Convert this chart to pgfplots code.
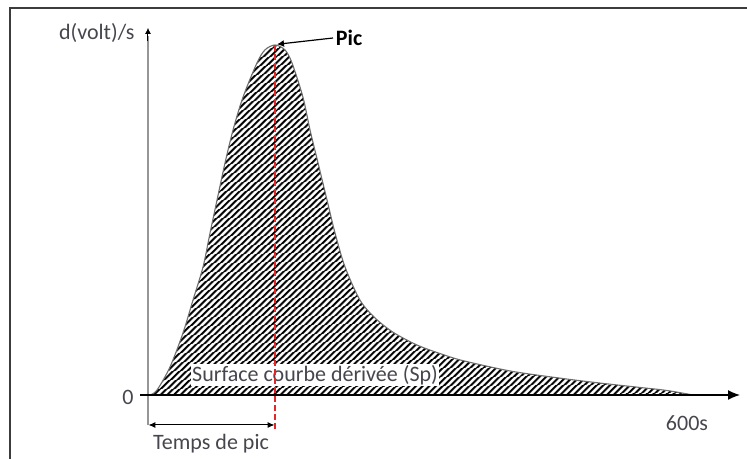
\documentclass[border=0pt]{standalone}
\usepackage{pgfplots}
\pgfplotsset{compat=1.18}
\usepackage{fontspec}
\setmainfont{Carlito}
\usetikzlibrary{patterns.meta,arrows.meta}
\definecolor{txt}{RGB}{70,70,78}
\definecolor{redline}{RGB}{225,40,40}
\definecolor{frame}{RGB}{60,60,60}
\definecolor{outl}{RGB}{110,110,110}
\definecolor{yax}{RGB}{150,150,150}
\begin{document}
\begin{tikzpicture}
\begin{axis}[
  scale only axis, width=747pt, height=459pt,
  xmin=-162.94, xmax=659.48, ymin=-18.286, ymax=112.857,
  hide axis, clip=false,
]
\coordinate (BL) at (rel axis cs:0,0);
\coordinate (TR) at (rel axis cs:1,1);
% frame
\draw[frame, line width=2.5pt] (axis cs:-151.9,-40) -- (axis cs:-151.9,110.6) -- (axis cs:720,110.6);
% hatched area
\addplot[draw=none, smooth, tension=0.5, pattern={Lines[angle=42,distance=4pt,line width=2pt]}, pattern color=black] coordinates {
(2.2,0) (9.9,1.4) (24.2,8.0) (38.5,17.7) (49.5,27.1) (60.6,36.6) (68.3,46.3) (76.0,55.7) (84.8,66.3) (93.6,75.7) (104.6,85.1) (120.0,94.9) (128.8,98.6) (139.8,100) (150.8,98.6) (158.5,94.9) (170.6,85.1) (178.4,75.7) (187.2,66.3) (197.1,55.7) (205.9,46.3) (216.9,36.6) (233.4,27.1) (250,22.0) (270,17.9) (296,14.3) (322,11.8) (347,9.8) (400,6.8) (457,4.7) (498,3.4) (540,2.2) (571,1.3) (600,0)
} -- cycle;
% outline
\addplot[smooth, tension=0.5, draw=outl, line width=1.1pt] coordinates {
(2.2,0) (9.9,1.4) (24.2,8.0) (38.5,17.7) (49.5,27.1) (60.6,36.6) (68.3,46.3) (76.0,55.7) (84.8,66.3) (93.6,75.7) (104.6,85.1) (120.0,94.9) (128.8,98.6) (139.8,100) (150.8,98.6) (158.5,94.9) (170.6,85.1) (178.4,75.7) (187.2,66.3) (197.1,55.7) (205.9,46.3) (216.9,36.6) (233.4,27.1) (250,22.0) (270,17.9) (296,14.3) (322,11.8) (347,9.8) (400,6.8) (457,4.7) (498,3.4) (540,2.2) (571,1.3) (600,0)
};
% surface label
\node[fill=white, inner sep=1pt, text=txt, font=\fontsize{22}{24}\selectfont] at (axis cs:183.9,5.7) {Surface courbe dérivée (Sp)};
% axes
\draw[yax, line width=1.8pt] (axis cs:0,-8.6) -- (axis cs:0,102.5);
\draw[black, -{Latex[length=6pt,width=6pt]}, line width=1pt] (axis cs:0,101) -- (axis cs:0,104.9);
\draw[black, line width=1.5pt, -{Latex[length=12pt,width=10pt]}] (axis cs:-8.8,0) -- (axis cs:651.8,0);
% red dashed peak line
\draw[redline, line width=1.6pt, dash pattern=on 6pt off 3pt] (axis cs:139.8,100) -- (axis cs:139.8,-10);
% temps de pic arrow
\draw[black, line width=1pt, {Latex[length=7pt,width=6pt]}-{Latex[length=7pt,width=6pt]}] (axis cs:0.5,-8.57) -- (axis cs:139.3,-8.57);
\node[text=txt, font=\fontsize{22}{24}\selectfont] at (axis cs:69.4,-13.9) {Temps de pic};
% labels
\node[text=txt, font=\fontsize{22}{24}\selectfont] at (axis cs:-22,-0.6) {0};
\node[text=txt, font=\fontsize{22}{24}\selectfont] at (axis cs:593.4,-8) {600s};
\node[text=txt, anchor=east, font=\fontsize{22}{24}\selectfont] at (axis cs:-11,103.4) {d(volt)/s};
% pic
\draw[black, line width=1.2pt, -{Latex[length=7pt,width=7pt]}] (axis cs:203.7,102) -- (axis cs:142,100.2);
\node[anchor=west, inner sep=2pt, font=\fontsize{22}{24}\selectfont\bfseries] at (axis cs:204.5,102) {Pic};
\end{axis}
\pgfresetboundingbox
\useasboundingbox (BL) rectangle (TR);
\end{tikzpicture}
\end{document}
